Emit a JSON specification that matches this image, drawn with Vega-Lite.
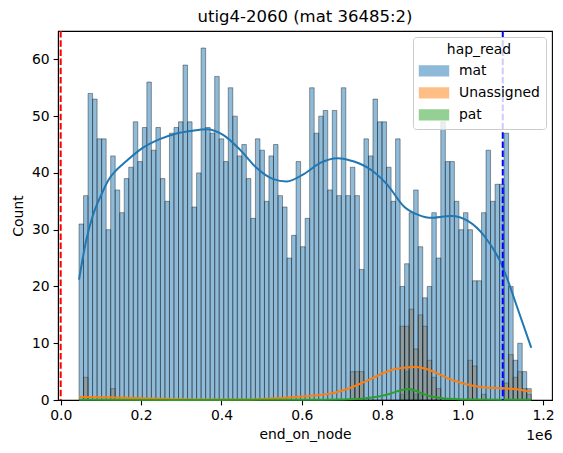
{
  "$schema": "https://vega.github.io/schema/vega-lite/v6.json",
  "autosize": {"type": "none"},
  "width": 494,
  "height": 369,
  "padding": {"left": 58, "top": 31, "right": 11, "bottom": 53},
  "title": {"text": "utig4-2060 (mat 36485:2)", "font": "DejaVu Sans", "fontSize": 16.5, "fontWeight": "normal", "color": "black", "offset": 5, "anchor": "middle"},
  "datasets": {
    "hist": [
      {"bin_start": 844563, "bin_end": 855816, "hap_read": "pat", "count": 1},
      {"bin_start": 855816, "bin_end": 867069, "hap_read": "pat", "count": 5},
      {"bin_start": 867069, "bin_end": 878322, "hap_read": "pat", "count": 2},
      {"bin_start": 878322, "bin_end": 889575, "hap_read": "pat", "count": 1},
      {"bin_start": 889575, "bin_end": 900828, "hap_read": "pat", "count": 1},
      {"bin_start": 56853, "bin_end": 68106, "hap_read": "Unassigned", "count": 4},
      {"bin_start": 124371, "bin_end": 135624, "hap_read": "Unassigned", "count": 2},
      {"bin_start": 720780, "bin_end": 732033, "hap_read": "Unassigned", "count": 5},
      {"bin_start": 732033, "bin_end": 743286, "hap_read": "Unassigned", "count": 5},
      {"bin_start": 743286, "bin_end": 754539, "hap_read": "Unassigned", "count": 5},
      {"bin_start": 844563, "bin_end": 855816, "hap_read": "Unassigned", "count": 13},
      {"bin_start": 855816, "bin_end": 867069, "hap_read": "Unassigned", "count": 13},
      {"bin_start": 867069, "bin_end": 878322, "hap_read": "Unassigned", "count": 16},
      {"bin_start": 878322, "bin_end": 889575, "hap_read": "Unassigned", "count": 9},
      {"bin_start": 889575, "bin_end": 900828, "hap_read": "Unassigned", "count": 15},
      {"bin_start": 900828, "bin_end": 912081, "hap_read": "Unassigned", "count": 13},
      {"bin_start": 912081, "bin_end": 923334, "hap_read": "Unassigned", "count": 7},
      {"bin_start": 923334, "bin_end": 934587, "hap_read": "Unassigned", "count": 4},
      {"bin_start": 934587, "bin_end": 945840, "hap_read": "Unassigned", "count": 2},
      {"bin_start": 1013358, "bin_end": 1024611, "hap_read": "Unassigned", "count": 7},
      {"bin_start": 1024611, "bin_end": 1035864, "hap_read": "Unassigned", "count": 6},
      {"bin_start": 1047117, "bin_end": 1058370, "hap_read": "Unassigned", "count": 1},
      {"bin_start": 1103382, "bin_end": 1114635, "hap_read": "Unassigned", "count": 3},
      {"bin_start": 1114635, "bin_end": 1125888, "hap_read": "Unassigned", "count": 8},
      {"bin_start": 1125888, "bin_end": 1137141, "hap_read": "Unassigned", "count": 4},
      {"bin_start": 1137141, "bin_end": 1148394, "hap_read": "Unassigned", "count": 5},
      {"bin_start": 1148394, "bin_end": 1159647, "hap_read": "Unassigned", "count": 2},
      {"bin_start": 1159647, "bin_end": 1170900, "hap_read": "Unassigned", "count": 1},
      {"bin_start": 45600, "bin_end": 56853, "hap_read": "mat", "count": 31},
      {"bin_start": 56853, "bin_end": 68106, "hap_read": "mat", "count": 36},
      {"bin_start": 68106, "bin_end": 79359, "hap_read": "mat", "count": 54},
      {"bin_start": 79359, "bin_end": 90612, "hap_read": "mat", "count": 53},
      {"bin_start": 90612, "bin_end": 101865, "hap_read": "mat", "count": 46},
      {"bin_start": 101865, "bin_end": 113118, "hap_read": "mat", "count": 46},
      {"bin_start": 113118, "bin_end": 124371, "hap_read": "mat", "count": 30},
      {"bin_start": 124371, "bin_end": 135624, "hap_read": "mat", "count": 43},
      {"bin_start": 135624, "bin_end": 146877, "hap_read": "mat", "count": 37},
      {"bin_start": 146877, "bin_end": 158130, "hap_read": "mat", "count": 33},
      {"bin_start": 158130, "bin_end": 169383, "hap_read": "mat", "count": 39},
      {"bin_start": 169383, "bin_end": 180636, "hap_read": "mat", "count": 41},
      {"bin_start": 180636, "bin_end": 191889, "hap_read": "mat", "count": 49},
      {"bin_start": 191889, "bin_end": 203142, "hap_read": "mat", "count": 42},
      {"bin_start": 203142, "bin_end": 214395, "hap_read": "mat", "count": 48},
      {"bin_start": 214395, "bin_end": 225648, "hap_read": "mat", "count": 56},
      {"bin_start": 225648, "bin_end": 236901, "hap_read": "mat", "count": 44},
      {"bin_start": 236901, "bin_end": 248154, "hap_read": "mat", "count": 48},
      {"bin_start": 248154, "bin_end": 259407, "hap_read": "mat", "count": 39},
      {"bin_start": 259407, "bin_end": 270660, "hap_read": "mat", "count": 35},
      {"bin_start": 270660, "bin_end": 281913, "hap_read": "mat", "count": 47},
      {"bin_start": 281913, "bin_end": 293166, "hap_read": "mat", "count": 48},
      {"bin_start": 293166, "bin_end": 304419, "hap_read": "mat", "count": 49},
      {"bin_start": 304419, "bin_end": 315672, "hap_read": "mat", "count": 59},
      {"bin_start": 315672, "bin_end": 326925, "hap_read": "mat", "count": 49},
      {"bin_start": 326925, "bin_end": 338178, "hap_read": "mat", "count": 34},
      {"bin_start": 338178, "bin_end": 349431, "hap_read": "mat", "count": 40},
      {"bin_start": 349431, "bin_end": 360684, "hap_read": "mat", "count": 62},
      {"bin_start": 360684, "bin_end": 371937, "hap_read": "mat", "count": 48},
      {"bin_start": 371937, "bin_end": 383190, "hap_read": "mat", "count": 47},
      {"bin_start": 383190, "bin_end": 394443, "hap_read": "mat", "count": 57},
      {"bin_start": 394443, "bin_end": 405696, "hap_read": "mat", "count": 46},
      {"bin_start": 405696, "bin_end": 416949, "hap_read": "mat", "count": 42},
      {"bin_start": 416949, "bin_end": 428202, "hap_read": "mat", "count": 55},
      {"bin_start": 428202, "bin_end": 439455, "hap_read": "mat", "count": 50},
      {"bin_start": 439455, "bin_end": 450708, "hap_read": "mat", "count": 43},
      {"bin_start": 450708, "bin_end": 461961, "hap_read": "mat", "count": 45},
      {"bin_start": 461961, "bin_end": 473214, "hap_read": "mat", "count": 39},
      {"bin_start": 473214, "bin_end": 484467, "hap_read": "mat", "count": 32},
      {"bin_start": 484467, "bin_end": 495720, "hap_read": "mat", "count": 46},
      {"bin_start": 495720, "bin_end": 506973, "hap_read": "mat", "count": 44},
      {"bin_start": 506973, "bin_end": 518226, "hap_read": "mat", "count": 35},
      {"bin_start": 518226, "bin_end": 529479, "hap_read": "mat", "count": 43},
      {"bin_start": 529479, "bin_end": 540732, "hap_read": "mat", "count": 45},
      {"bin_start": 540732, "bin_end": 551985, "hap_read": "mat", "count": 36},
      {"bin_start": 551985, "bin_end": 563238, "hap_read": "mat", "count": 34},
      {"bin_start": 563238, "bin_end": 574491, "hap_read": "mat", "count": 25},
      {"bin_start": 574491, "bin_end": 585744, "hap_read": "mat", "count": 29},
      {"bin_start": 585744, "bin_end": 596997, "hap_read": "mat", "count": 42},
      {"bin_start": 596997, "bin_end": 608250, "hap_read": "mat", "count": 27},
      {"bin_start": 608250, "bin_end": 619503, "hap_read": "mat", "count": 32},
      {"bin_start": 619503, "bin_end": 630756, "hap_read": "mat", "count": 55},
      {"bin_start": 630756, "bin_end": 642009, "hap_read": "mat", "count": 47},
      {"bin_start": 642009, "bin_end": 653262, "hap_read": "mat", "count": 50},
      {"bin_start": 653262, "bin_end": 664515, "hap_read": "mat", "count": 51},
      {"bin_start": 664515, "bin_end": 675768, "hap_read": "mat", "count": 37},
      {"bin_start": 675768, "bin_end": 687021, "hap_read": "mat", "count": 51},
      {"bin_start": 687021, "bin_end": 698274, "hap_read": "mat", "count": 36},
      {"bin_start": 698274, "bin_end": 709527, "hap_read": "mat", "count": 55},
      {"bin_start": 709527, "bin_end": 720780, "hap_read": "mat", "count": 36},
      {"bin_start": 720780, "bin_end": 732033, "hap_read": "mat", "count": 41},
      {"bin_start": 732033, "bin_end": 743286, "hap_read": "mat", "count": 36},
      {"bin_start": 743286, "bin_end": 754539, "hap_read": "mat", "count": 23},
      {"bin_start": 754539, "bin_end": 765792, "hap_read": "mat", "count": 46},
      {"bin_start": 765792, "bin_end": 777045, "hap_read": "mat", "count": 43},
      {"bin_start": 777045, "bin_end": 788298, "hap_read": "mat", "count": 53},
      {"bin_start": 788298, "bin_end": 799551, "hap_read": "mat", "count": 49},
      {"bin_start": 799551, "bin_end": 810804, "hap_read": "mat", "count": 49},
      {"bin_start": 810804, "bin_end": 822057, "hap_read": "mat", "count": 41},
      {"bin_start": 822057, "bin_end": 833310, "hap_read": "mat", "count": 35},
      {"bin_start": 833310, "bin_end": 844563, "hap_read": "mat", "count": 46},
      {"bin_start": 844563, "bin_end": 855816, "hap_read": "mat", "count": 20},
      {"bin_start": 855816, "bin_end": 867069, "hap_read": "mat", "count": 24},
      {"bin_start": 867069, "bin_end": 878322, "hap_read": "mat", "count": 33},
      {"bin_start": 878322, "bin_end": 889575, "hap_read": "mat", "count": 37},
      {"bin_start": 889575, "bin_end": 900828, "hap_read": "mat", "count": 27},
      {"bin_start": 900828, "bin_end": 912081, "hap_read": "mat", "count": 18},
      {"bin_start": 912081, "bin_end": 923334, "hap_read": "mat", "count": 20},
      {"bin_start": 923334, "bin_end": 934587, "hap_read": "mat", "count": 33},
      {"bin_start": 934587, "bin_end": 945840, "hap_read": "mat", "count": 25},
      {"bin_start": 945840, "bin_end": 957093, "hap_read": "mat", "count": 49},
      {"bin_start": 957093, "bin_end": 968346, "hap_read": "mat", "count": 42},
      {"bin_start": 968346, "bin_end": 979599, "hap_read": "mat", "count": 42},
      {"bin_start": 979599, "bin_end": 990852, "hap_read": "mat", "count": 35},
      {"bin_start": 990852, "bin_end": 1002105, "hap_read": "mat", "count": 30},
      {"bin_start": 1002105, "bin_end": 1013358, "hap_read": "mat", "count": 33},
      {"bin_start": 1013358, "bin_end": 1024611, "hap_read": "mat", "count": 30},
      {"bin_start": 1024611, "bin_end": 1035864, "hap_read": "mat", "count": 21},
      {"bin_start": 1035864, "bin_end": 1047117, "hap_read": "mat", "count": 21},
      {"bin_start": 1047117, "bin_end": 1058370, "hap_read": "mat", "count": 33},
      {"bin_start": 1058370, "bin_end": 1069623, "hap_read": "mat", "count": 44},
      {"bin_start": 1069623, "bin_end": 1080876, "hap_read": "mat", "count": 35},
      {"bin_start": 1080876, "bin_end": 1092129, "hap_read": "mat", "count": 38},
      {"bin_start": 1092129, "bin_end": 1103382, "hap_read": "mat", "count": 38},
      {"bin_start": 1103382, "bin_end": 1114635, "hap_read": "mat", "count": 47},
      {"bin_start": 1114635, "bin_end": 1125888, "hap_read": "mat", "count": 20},
      {"bin_start": 1125888, "bin_end": 1137141, "hap_read": "mat", "count": 7},
      {"bin_start": 1137141, "bin_end": 1148394, "hap_read": "mat", "count": 10},
      {"bin_start": 1148394, "bin_end": 1159647, "hap_read": "mat", "count": 5},
      {"bin_start": 1159647, "bin_end": 1170900, "hap_read": "mat", "count": 2}
    ],
    "kde": [
      {"end_on_node": 45600, "density": 21.2, "hap_read": "mat"},
      {"end_on_node": 64000, "density": 28.3, "hap_read": "mat"},
      {"end_on_node": 80000, "density": 32.5, "hap_read": "mat"},
      {"end_on_node": 100000, "density": 36.0, "hap_read": "mat"},
      {"end_on_node": 120000, "density": 38.9, "hap_read": "mat"},
      {"end_on_node": 140000, "density": 40.6, "hap_read": "mat"},
      {"end_on_node": 162000, "density": 42.0, "hap_read": "mat"},
      {"end_on_node": 204000, "density": 44.4, "hap_read": "mat"},
      {"end_on_node": 245000, "density": 45.9, "hap_read": "mat"},
      {"end_on_node": 286000, "density": 46.9, "hap_read": "mat"},
      {"end_on_node": 325000, "density": 47.4, "hap_read": "mat"},
      {"end_on_node": 363000, "density": 47.7, "hap_read": "mat"},
      {"end_on_node": 404000, "density": 46.7, "hap_read": "mat"},
      {"end_on_node": 446000, "density": 44.1, "hap_read": "mat"},
      {"end_on_node": 487000, "density": 40.9, "hap_read": "mat"},
      {"end_on_node": 529000, "density": 38.9, "hap_read": "mat"},
      {"end_on_node": 562000, "density": 38.5, "hap_read": "mat"},
      {"end_on_node": 605000, "density": 39.8, "hap_read": "mat"},
      {"end_on_node": 647000, "density": 41.8, "hap_read": "mat"},
      {"end_on_node": 688000, "density": 42.6, "hap_read": "mat"},
      {"end_on_node": 730000, "density": 42.0, "hap_read": "mat"},
      {"end_on_node": 771000, "density": 40.6, "hap_read": "mat"},
      {"end_on_node": 813000, "density": 37.9, "hap_read": "mat"},
      {"end_on_node": 854000, "density": 34.1, "hap_read": "mat"},
      {"end_on_node": 890000, "density": 32.6, "hap_read": "mat"},
      {"end_on_node": 917000, "density": 32.1, "hap_read": "mat"},
      {"end_on_node": 972000, "density": 32.4, "hap_read": "mat"},
      {"end_on_node": 1014000, "density": 31.5, "hap_read": "mat"},
      {"end_on_node": 1055000, "density": 28.8, "hap_read": "mat"},
      {"end_on_node": 1097000, "density": 23.9, "hap_read": "mat"},
      {"end_on_node": 1138000, "density": 15.9, "hap_read": "mat"},
      {"end_on_node": 1170900, "density": 9.2, "hap_read": "mat"},
      {"end_on_node": 45600, "density": 0.55, "hap_read": "Unassigned"},
      {"end_on_node": 100000, "density": 0.5, "hap_read": "Unassigned"},
      {"end_on_node": 150000, "density": 0.4, "hap_read": "Unassigned"},
      {"end_on_node": 200000, "density": 0.3, "hap_read": "Unassigned"},
      {"end_on_node": 250000, "density": 0.2, "hap_read": "Unassigned"},
      {"end_on_node": 300000, "density": 0.12, "hap_read": "Unassigned"},
      {"end_on_node": 350000, "density": 0.08, "hap_read": "Unassigned"},
      {"end_on_node": 400000, "density": 0.07, "hap_read": "Unassigned"},
      {"end_on_node": 450000, "density": 0.1, "hap_read": "Unassigned"},
      {"end_on_node": 500000, "density": 0.18, "hap_read": "Unassigned"},
      {"end_on_node": 550000, "density": 0.35, "hap_read": "Unassigned"},
      {"end_on_node": 600000, "density": 0.6, "hap_read": "Unassigned"},
      {"end_on_node": 640000, "density": 0.85, "hap_read": "Unassigned"},
      {"end_on_node": 670000, "density": 1.1, "hap_read": "Unassigned"},
      {"end_on_node": 711000, "density": 1.9, "hap_read": "Unassigned"},
      {"end_on_node": 753000, "density": 3.1, "hap_read": "Unassigned"},
      {"end_on_node": 795000, "density": 4.5, "hap_read": "Unassigned"},
      {"end_on_node": 836000, "density": 5.5, "hap_read": "Unassigned"},
      {"end_on_node": 884000, "density": 5.8, "hap_read": "Unassigned"},
      {"end_on_node": 919000, "density": 5.25, "hap_read": "Unassigned"},
      {"end_on_node": 961000, "density": 3.9, "hap_read": "Unassigned"},
      {"end_on_node": 1002000, "density": 2.9, "hap_read": "Unassigned"},
      {"end_on_node": 1044000, "density": 2.3, "hap_read": "Unassigned"},
      {"end_on_node": 1085000, "density": 2.1, "hap_read": "Unassigned"},
      {"end_on_node": 1127000, "density": 1.95, "hap_read": "Unassigned"},
      {"end_on_node": 1170900, "density": 1.5, "hap_read": "Unassigned"},
      {"end_on_node": 45600, "density": 0.03, "hap_read": "pat"},
      {"end_on_node": 300000, "density": 0.02, "hap_read": "pat"},
      {"end_on_node": 600000, "density": 0.03, "hap_read": "pat"},
      {"end_on_node": 700000, "density": 0.1, "hap_read": "pat"},
      {"end_on_node": 760000, "density": 0.3, "hap_read": "pat"},
      {"end_on_node": 795000, "density": 0.65, "hap_read": "pat"},
      {"end_on_node": 820000, "density": 1.1, "hap_read": "pat"},
      {"end_on_node": 840000, "density": 1.6, "hap_read": "pat"},
      {"end_on_node": 863000, "density": 1.95, "hap_read": "pat"},
      {"end_on_node": 886000, "density": 1.55, "hap_read": "pat"},
      {"end_on_node": 905000, "density": 1.0, "hap_read": "pat"},
      {"end_on_node": 920000, "density": 0.65, "hap_read": "pat"},
      {"end_on_node": 945000, "density": 0.35, "hap_read": "pat"},
      {"end_on_node": 965000, "density": 0.2, "hap_read": "pat"},
      {"end_on_node": 1000000, "density": 0.1, "hap_read": "pat"},
      {"end_on_node": 1100000, "density": 0.05, "hap_read": "pat"},
      {"end_on_node": 1170900, "density": 0.04, "hap_read": "pat"}
    ],
    "vlines": [
      {"pos": 0, "line": "red"},
      {"pos": 1100000, "line": "blue"}
    ]
  },
  "layer": [
    {
      "data": {"name": "hist"},
      "mark": {"type": "bar", "fillOpacity": 0.5, "strokeOpacity": 0.5, "strokeWidth": 0.75},
      "encoding": {
        "x": {"field": "bin_start", "type": "quantitative",
              "scale": {"domain": [-6700, 1222500], "nice": false, "zero": false},
              "axis": {"title": "end_on_node", "values": [0, 200000, 400000, 600000, 800000, 1000000, 1200000],
                       "labelExpr": "format(datum.value / 1000000, '.1f')", "titlePadding": 5}},
        "x2": {"field": "bin_end"},
        "y": {"field": "count", "type": "quantitative", "stack": null,
              "scale": {"domain": [0, 65], "nice": false},
              "axis": {"title": "Count", "values": [0, 10, 20, 30, 40, 50, 60], "titlePadding": 6}},
        "y2": {"datum": 0},
        "stroke": {"field": "hap_read", "type": "nominal",
                   "scale": {"domain": ["mat", "Unassigned", "pat"], "range": ["black", "black", "black"]},
                   "legend": {"title": "hap_read"}},
        "color": {"field": "hap_read", "type": "nominal",
                  "scale": {"domain": ["mat", "Unassigned", "pat"], "range": ["#1f77b4", "#ff7f0e", "#2ca02c"]},
                  "legend": {"title": "hap_read"}}
      }
    },
    {
      "data": {"name": "kde"},
      "mark": {"type": "line", "strokeWidth": 2, "interpolate": "monotone"},
      "encoding": {
        "x": {"field": "end_on_node", "type": "quantitative",
              "scale": {"domain": [-6700, 1222500], "nice": false, "zero": false}, "axis": null},
        "y": {"field": "density", "type": "quantitative"},
        "color": {"field": "hap_read", "type": "nominal",
                  "scale": {"domain": ["mat", "Unassigned", "pat"], "range": ["#1f77b4", "#ff7f0e", "#2ca02c"]},
                  "legend": null}
      }
    },
    {
      "data": {"name": "vlines"},
      "transform": [{"filter": "datum.line === 'red'"}],
      "mark": {"type": "rule", "color": "red", "strokeWidth": 2, "strokeDash": [6.5, 2.7]},
      "encoding": {
        "x": {"field": "pos", "type": "quantitative",
              "scale": {"domain": [-6700, 1222500], "nice": false, "zero": false}, "axis": null}
      }
    },
    {
      "data": {"name": "vlines"},
      "transform": [{"filter": "datum.line === 'blue'"}],
      "mark": {"type": "rule", "color": "blue", "strokeWidth": 2, "strokeDash": [6.5, 2.7]},
      "encoding": {
        "x": {"field": "pos", "type": "quantitative",
              "scale": {"domain": [-6700, 1222500], "nice": false, "zero": false},
              "axis": {"orient": "bottom", "title": "1e6", "labels": false, "ticks": false, "domain": false,
                       "titleAnchor": "end", "titleAlign": "right", "titlePadding": 28}}
      }
    }
  ],
  "resolve": {"axis": {"x": "independent"}},
  "config": {
    "font": "DejaVu Sans",
    "view": {"stroke": "black", "strokeWidth": 1.1},
    "axis": {
      "grid": false, "labelFont": "DejaVu Sans", "labelFontSize": 13.9, "labelColor": "black",
      "tickColor": "black", "tickSize": 4.9, "tickWidth": 1.1, "labelPadding": 4,
      "domainColor": "black", "domainWidth": 1.1,
      "titleFont": "DejaVu Sans", "titleFontSize": 13.9, "titleFontWeight": "normal", "titleColor": "black",
      "zindex": 1
    },
    "legend": {
      "orient": "top-right", "offset": 6, "padding": 6,
      "fillColor": "rgba(255,255,255,0.8)", "strokeColor": "#cccccc", "cornerRadius": 3,
      "titleFont": "DejaVu Sans", "titleFontSize": 13.9, "titleFontWeight": "normal", "titleColor": "black",
      "titleAnchor": "middle", "titlePadding": 5,
      "labelFont": "DejaVu Sans", "labelFontSize": 13.9, "labelColor": "black", "labelOffset": 16,
      "symbolType": "M-1.8,-0.6H1.8V0.6H-1.8Z", "symbolSize": 256, "symbolOffset": 6,
      "symbolOpacity": 0.5, "symbolStrokeColor": "black", "symbolStrokeWidth": 1.6, "rowPadding": 5,
      "zindex": 1
    }
  }
}
